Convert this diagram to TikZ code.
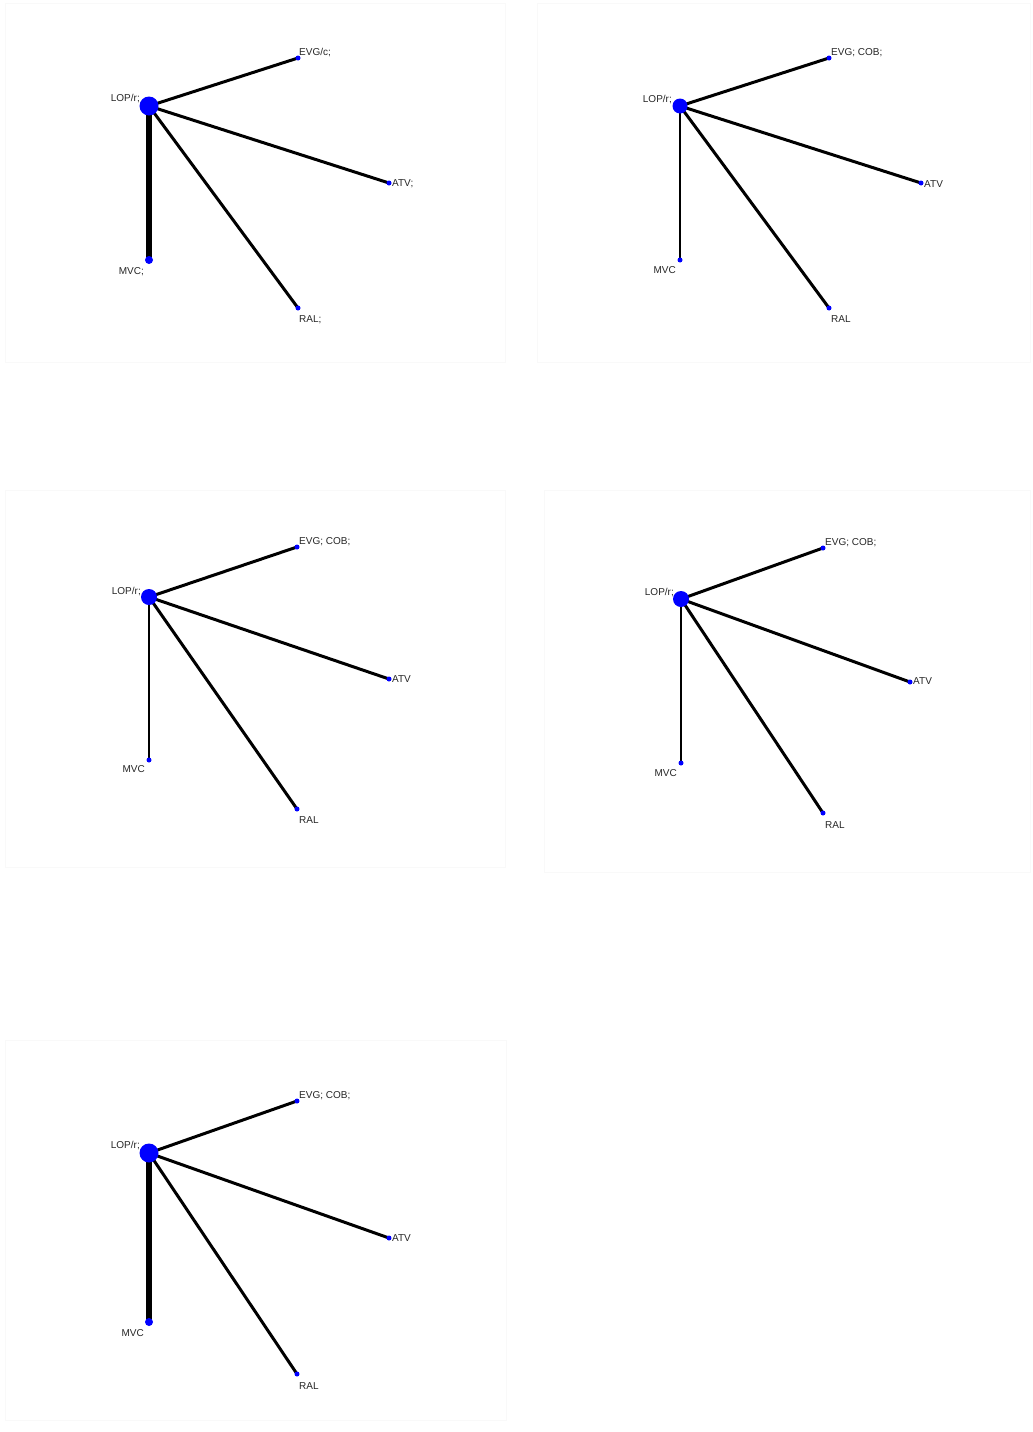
\documentclass[tikz,border=0pt]{standalone}
\usepackage{fontspec}
\setmainfont{Liberation Sans}
\begin{document}
\begin{tikzpicture}[x=1pt,y=-1pt,
  hub/.style={circle, fill=blue, inner sep=0pt, minimum size=#1},
  hub/.default=18pt,
  leaf/.style={circle, fill=blue, inner sep=0pt, minimum size=#1},
  leaf/.default=5pt,
  lbl/.style={font=\fontsize{10}{12}\selectfont, text=black!85, inner sep=0pt},
  edge/.style={line width=3pt, black},
  thickedge/.style={line width=6.5pt, black},
  thinedge/.style={line width=2.6pt, black},
  frame/.style={draw=black!2.5, line width=0.8pt}]
\useasboundingbox (0,0) rectangle (1033,1432);
\fill[white] (0,0) rectangle (1033,1432);
% faint panel frames
\draw[frame] (5,3) rectangle (505,362);
\draw[frame] (537,3) rectangle (1030,362);
\draw[frame] (5,490) rectangle (505,867);
\draw[frame] (544,490) rectangle (1030,872);
\draw[frame] (5,1040) rectangle (506,1420);

% ---------- Panel 1 ----------
\coordinate (aLc) at (149,106);
\coordinate (aEc) at (298,58);
\coordinate (aAc) at (389,183);
\coordinate (aMc) at (149,260);
\coordinate (aRc) at (298,308);
\draw[edge] (aLc) -- (aEc);
\draw[edge] (aLc) -- (aAc);
\draw[edge] (aLc) -- (aRc);
\draw[thickedge] (aLc) -- (aMc);
\node[hub=19pt] (aL) at (aLc) {};
\node[leaf] (aE) at (aEc) {};
\node[leaf] (aA) at (aAc) {};
\node[leaf=8pt] (aM) at (aMc) {};
\node[leaf] (aR) at (aRc) {};
\node[lbl, anchor=base east] (aLt) at (140,101) {LOP/r;};
\node[lbl, anchor=base west] (aEt) at (299,55) {EVG/c;};
\node[lbl, anchor=west] (aAt) at (392,184) {ATV;};
\node[lbl, anchor=base east] (aMt) at (144,274) {MVC;};
\node[lbl, anchor=base west] (aRt) at (299,322) {RAL;};

% ---------- Panel 2 ----------
\coordinate (bLc) at (680,106);
\coordinate (bEc) at (829,58);
\coordinate (bAc) at (921,183);
\coordinate (bMc) at (680,260);
\coordinate (bRc) at (829,308);
\draw[edge] (bLc) -- (bEc);
\draw[edge] (bLc) -- (bAc);
\draw[edge] (bLc) -- (bRc);
\draw[thinedge] (bLc) -- (bMc);
\node[hub=15pt] (bL) at (bLc) {};
\node[leaf] (bE) at (bEc) {};
\node[leaf] (bA) at (bAc) {};
\node[leaf] (bM) at (bMc) {};
\node[leaf] (bR) at (bRc) {};
\node[lbl, anchor=base east] (bLt) at (672,102) {LOP/r;};
\node[lbl, anchor=base west] (bEt) at (831,55) {EVG; COB;};
\node[lbl, anchor=west] (bAt) at (924,184) {ATV};
\node[lbl, anchor=base east] (bMt) at (676,273) {MVC};
\node[lbl, anchor=base west] (bRt) at (831,322) {RAL};

% ---------- Panel 3 ----------
\coordinate (cLc) at (149,597);
\coordinate (cEc) at (297,547);
\coordinate (cAc) at (389,679);
\coordinate (cMc) at (149,760);
\coordinate (cRc) at (297,809);
\draw[edge] (cLc) -- (cEc);
\draw[edge] (cLc) -- (cAc);
\draw[edge] (cLc) -- (cRc);
\draw[thinedge] (cLc) -- (cMc);
\node[hub=16pt] (cL) at (cLc) {};
\node[leaf] (cE) at (cEc) {};
\node[leaf] (cA) at (cAc) {};
\node[leaf] (cM) at (cMc) {};
\node[leaf] (cR) at (cRc) {};
\node[lbl, anchor=base east] (cLt) at (141,594) {LOP/r;};
\node[lbl, anchor=base west] (cEt) at (299,544) {EVG; COB;};
\node[lbl, anchor=west] (cAt) at (392,679) {ATV};
\node[lbl, anchor=base east] (cMt) at (145,772) {MVC};
\node[lbl, anchor=base west] (cRt) at (299,823) {RAL};

% ---------- Panel 4 ----------
\coordinate (dLc) at (681,599);
\coordinate (dEc) at (823,548);
\coordinate (dAc) at (910,682);
\coordinate (dMc) at (681,763);
\coordinate (dRc) at (823,813);
\draw[edge] (dLc) -- (dEc);
\draw[edge] (dLc) -- (dAc);
\draw[edge] (dLc) -- (dRc);
\draw[thinedge] (dLc) -- (dMc);
\node[hub=16pt] (dL) at (dLc) {};
\node[leaf] (dE) at (dEc) {};
\node[leaf] (dA) at (dAc) {};
\node[leaf] (dM) at (dMc) {};
\node[leaf] (dR) at (dRc) {};
\node[lbl, anchor=base east] (dLt) at (674,595) {LOP/r;};
\node[lbl, anchor=base west] (dEt) at (825,545) {EVG; COB;};
\node[lbl, anchor=west] (dAt) at (913,681) {ATV};
\node[lbl, anchor=base east] (dMt) at (677,776) {MVC};
\node[lbl, anchor=base west] (dRt) at (825,828) {RAL};

% ---------- Panel 5 ----------
\coordinate (eLc) at (149,1153);
\coordinate (eEc) at (297,1101);
\coordinate (eAc) at (389,1238);
\coordinate (eMc) at (149,1322);
\coordinate (eRc) at (297,1374);
\draw[edge] (eLc) -- (eEc);
\draw[edge] (eLc) -- (eAc);
\draw[edge] (eLc) -- (eRc);
\draw[thickedge] (eLc) -- (eMc);
\node[hub=19pt] (eL) at (eLc) {};
\node[leaf] (eE) at (eEc) {};
\node[leaf] (eA) at (eAc) {};
\node[leaf=8pt] (eM) at (eMc) {};
\node[leaf] (eR) at (eRc) {};
\node[lbl, anchor=base east] (eLt) at (140,1148) {LOP/r;};
\node[lbl, anchor=base west] (eEt) at (299,1098) {EVG; COB;};
\node[lbl, anchor=west] (eAt) at (392,1238) {ATV};
\node[lbl, anchor=base east] (eMt) at (144,1336) {MVC};
\node[lbl, anchor=base west] (eRt) at (299,1389) {RAL};
\end{tikzpicture}
\end{document}
